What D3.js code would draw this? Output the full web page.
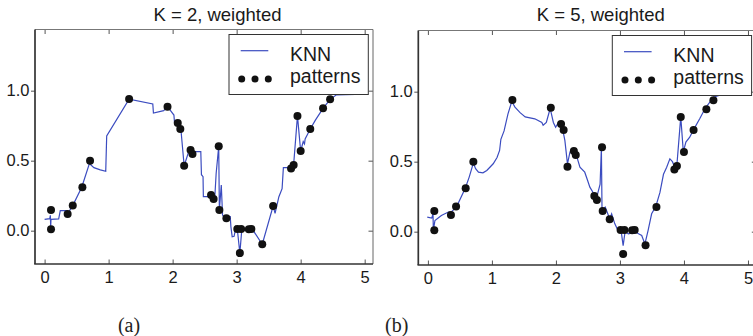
<!DOCTYPE html>
<html>
<head>
<meta charset="utf-8">
<script src="https://cdn.jsdelivr.net/npm/d3@7"></script>
<style>
  body { margin: 0; background: #fff; }
  svg { display: block; font-family: 'Liberation Sans', Arial, sans-serif; }
</style>
</head>
<body>
<svg id="chart" width="753" height="336"></svg>
<script>
// training patterns (same in both panels)
const patternX = [0.10, 0.10, 0.36, 0.44, 0.59, 0.71, 1.32, 1.92, 2.08, 2.12, 2.18, 2.28, 2.31,
  2.60, 2.64, 2.72, 2.73, 2.84, 3.01, 3.05, 3.07, 3.19, 3.23, 3.40, 3.57, 3.85, 3.89, 3.95,
  4.00, 4.15, 4.35, 4.46];
const patternY = [0.148, 0.01, 0.12, 0.18, 0.31, 0.50, 0.94, 0.886, 0.77, 0.726, 0.464, 0.576, 0.548,
  0.255, 0.226, 0.603, 0.148, 0.088, 0.012, -0.16, 0.012, 0.01, 0.012, -0.097, 0.176, 0.445, 0.47, 0.82,
  0.569, 0.726, 0.874, 0.938];

// KNN prediction, K = 2
const knn2 = [[0.00, 0.081], [0.08, 0.086], [0.09, 0.11], [0.095, 0.03], [0.10, 0.081], [0.22, 0.084],
  [0.245, 0.143], [0.35, 0.143], [0.35, 0.117], [0.43, 0.17], [0.58, 0.31], [0.70, 0.48], [0.77, 0.45],
  [0.87, 0.434], [0.955, 0.424], [0.97, 0.676], [1.32, 0.94], [1.69, 0.905], [1.70, 0.84], [1.86, 0.857],
  [1.92, 0.886], [2.02, 0.826], [2.03, 0.77], [2.08, 0.77], [2.12, 0.726], [2.13, 0.72], [2.18, 0.464],
  [2.25, 0.564], [2.28, 0.576], [2.31, 0.548], [2.33, 0.564], [2.44, 0.564], [2.45, 0.40], [2.475, 0.386],
  [2.48, 0.243], [2.59, 0.243], [2.64, 0.226], [2.66, 0.25], [2.68, 0.41], [2.72, 0.603], [2.73, 0.148],
  [2.76, 0.326], [2.78, 0.112], [2.80, 0.10], [2.90, 0.10], [2.91, 0.029], [2.93, -0.043], [2.96, -0.04],
  [2.99, 0.029], [3.01, 0.012], [3.05, -0.16], [3.08, 0.005], [3.27, -0.007], [3.40, -0.097], [3.57, 0.176],
  [3.60, 0.124], [3.66, 0.243], [3.71, 0.30], [3.73, 0.45], [3.84, 0.45], [3.85, 0.445], [3.89, 0.47],
  [3.95, 0.82], [4.00, 0.569], [4.04, 0.636], [4.06, 0.62], [4.07, 0.655], [4.15, 0.726], [4.23, 0.79],
  [4.35, 0.874], [4.46, 0.938], [4.56, 0.97], [5.00, 0.976]];

// KNN prediction, K = 5
const knn5 = [[-0.01, 0.104], [0.06, 0.097], [0.08, 0.128], [0.085, 0.01], [0.11, 0.08], [0.21, 0.116],
  [0.32, 0.14], [0.36, 0.14], [0.40, 0.156], [0.44, 0.17], [0.58, 0.306], [0.645, 0.39], [0.71, 0.49],
  [0.745, 0.45], [0.79, 0.425], [0.86, 0.42], [0.92, 0.437], [1.02, 0.485], [1.08, 0.53], [1.12, 0.58],
  [1.14, 0.66], [1.19, 0.72], [1.25, 0.84], [1.31, 0.93], [1.36, 0.89], [1.44, 0.85], [1.52, 0.82],
  [1.67, 0.806], [1.78, 0.78], [1.80, 0.76], [1.85, 0.78], [1.91, 0.88], [1.96, 0.78], [1.995, 0.746],
  [2.04, 0.78], [2.07, 0.77], [2.11, 0.72], [2.14, 0.65], [2.18, 0.485], [2.22, 0.57], [2.27, 0.58],
  [2.32, 0.545], [2.375, 0.46], [2.45, 0.425], [2.495, 0.366], [2.53, 0.318], [2.58, 0.28], [2.60, 0.25],
  [2.645, 0.26], [2.69, 0.34], [2.71, 0.60], [2.72, 0.15], [2.77, 0.175], [2.81, 0.128], [2.84, 0.09],
  [2.87, 0.128], [2.92, 0.056], [2.97, 0.009], [3.02, 0.0], [3.05, -0.10], [3.08, 0.0], [3.13, -0.015],
  [3.18, -0.01], [3.24, 0.0], [3.29, -0.015], [3.34, -0.027], [3.39, -0.087], [3.44, 0.01], [3.495, 0.128],
  [3.56, 0.18], [3.625, 0.28], [3.68, 0.41], [3.73, 0.46], [3.78, 0.52], [3.82, 0.50], [3.86, 0.456],
  [3.89, 0.48], [3.95, 0.82], [3.99, 0.57], [4.03, 0.64], [4.09, 0.675], [4.14, 0.72], [4.25, 0.81],
  [4.33, 0.88], [4.46, 0.96], [4.6, 0.98], [5.0, 0.99]];

const xTicks = [0, 1, 2, 3, 4, 5];
const yTicks = [0.0, 0.5, 1.0];
const titles = ['K = 2, weighted', 'K = 5, weighted'];
const captions = ['(a)', '(b)'];
const legendLabels = ['KNN', 'patterns'];

const W = 338, H = 234.5;
const lineColor = '#3b4cc0';

const svg = d3.select('#chart');
svg.append('rect').attr('width', 753).attr('height', 336).attr('fill', '#fff');

const x = d3.scaleLinear().domain([-0.15, 5.13]).range([0, W]);
const y = d3.scaleLinear().domain([-0.238, 1.437]).range([H, 0]);

const points = patternX.map((v, i) => ({ x: v, y: patternY[i] }));

function drawPanel(i, left, top, knn, capX) {
  const g = svg.append('g').attr('transform', 'translate(' + left + ',' + top + ')');

  g.append('clipPath').attr('id', 'clip' + i)
    .append('rect').attr('width', W).attr('height', H);

  // ticks: bottom/top/right point inward, left points outward
  const bottom = g.append('g').attr('transform', 'translate(0,' + H + ')')
    .call(d3.axisBottom(x).tickValues(xTicks).tickSize(-4.5).tickPadding(7).tickFormat(d3.format('d')));
  const topAx = g.append('g')
    .call(d3.axisTop(x).tickValues(xTicks).tickSize(-4.5).tickFormat(''));
  const leftAx = g.append('g')
    .call(d3.axisLeft(y).tickValues(yTicks).tickSize(4).tickPadding(1.5).tickFormat(d3.format('.1f')));
  const rightAx = g.append('g').attr('transform', 'translate(' + W + ',0)')
    .call(d3.axisRight(y).tickValues(yTicks).tickSize(-4.5).tickFormat(''));

  [bottom, topAx, leftAx, rightAx].forEach(a => {
    a.select('.domain').remove();
    a.selectAll('.tick line').attr('stroke', '#555').attr('stroke-width', 1);
    a.selectAll('.tick text').attr('fill', '#1a1a1a')
      .style('font-size', '16.5px').style('font-family', "'Liberation Sans', Arial, sans-serif");
  });

  // the curve
  g.append('path')
    .datum(knn)
    .attr('clip-path', 'url(#clip' + i + ')')
    .attr('fill', 'none')
    .attr('stroke', lineColor)
    .attr('stroke-width', 1.2)
    .attr('d', d3.line().x(d => x(d[0])).y(d => y(d[1])));

  g.selectAll('circle.pt')
    .data(points)
    .enter()
    .append('circle')
    .attr('class', 'pt')
    .attr('cx', d => x(d.x))
    .attr('cy', d => y(d.y))
    .attr('r', 4)
    .attr('fill', '#111');

  // spines: left/bottom dark, top/right lighter
  g.append('line').attr('x1', 0).attr('x2', W).attr('y1', 0).attr('y2', 0)
    .attr('stroke', '#777').attr('stroke-width', 1);
  g.append('line').attr('x1', W).attr('x2', W).attr('y1', 0).attr('y2', H)
    .attr('stroke', '#666').attr('stroke-width', 1);
  g.append('line').attr('x1', 0).attr('x2', 0).attr('y1', 0).attr('y2', H)
    .attr('stroke', '#333').attr('stroke-width', 1.7);
  g.append('line').attr('x1', -0.8).attr('x2', W).attr('y1', H).attr('y2', H)
    .attr('stroke', '#333').attr('stroke-width', 1.7);

  // legend
  const lg = g.append('g').attr('transform', 'translate(194,5)');
  lg.append('rect').attr('width', 139.3).attr('height', 60)
    .attr('fill', '#fff').attr('stroke', '#333').attr('stroke-width', 1);
  lg.append('line').attr('x1', 11.7).attr('x2', 39.3).attr('y1', 16.2).attr('y2', 16.2)
    .attr('stroke', lineColor).attr('stroke-width', 1.2);
  lg.selectAll('circle').data([12.7, 26, 39.3]).enter().append('circle')
    .attr('cx', d => d).attr('cy', 44.5).attr('r', 3.5).attr('fill', '#111');
  lg.selectAll('text').data(legendLabels).enter().append('text')
    .attr('x', 61).attr('y', (d, j) => j ? 48.8 : 26.2)
    .attr('fill', '#1a1a1a')
    .style('font-size', '19.5px')
    .text(d => d);

  g.append('text')
    .attr('x', 182.5).attr('y', 20.7 - top)
    .attr('text-anchor', 'middle')
    .attr('fill', '#1a1a1a')
    .style('font-size', '18.5px')
    .text(titles[i]);

  svg.append('text')
    .attr('x', capX).attr('y', 332)
    .attr('text-anchor', 'middle')
    .attr('fill', '#222')
    .style('font-family', "'Liberation Serif', 'Times New Roman', serif")
    .style('font-size', '20px')
    .text(captions[i]);
}

drawPanel(0, 35, 29.5, knn2, 129);
drawPanel(1, 418.3, 30.5, knn5, 396.7);
</script>
</body>
</html>
